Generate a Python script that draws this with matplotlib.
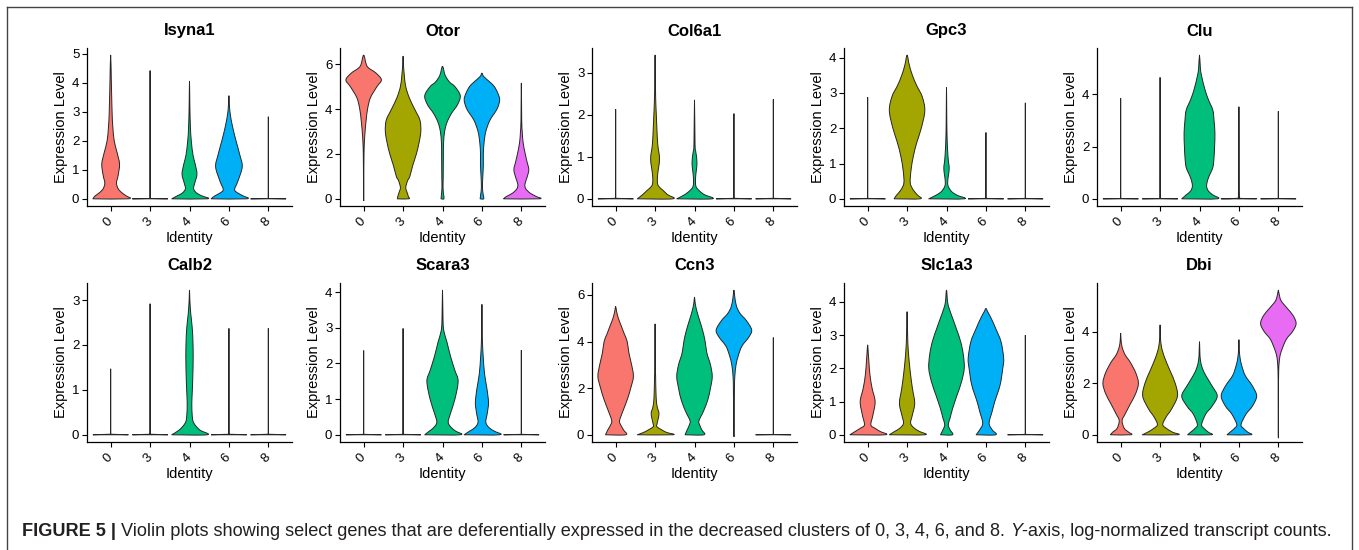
import matplotlib
matplotlib.use("Agg")
import matplotlib.pyplot as plt
from matplotlib.lines import Line2D
from matplotlib.path import Path
from matplotlib.patches import PathPatch

plt.rcParams['font.family'] = ['Liberation Sans', 'DejaVu Sans']

# cluster identities and ggplot hue colours
clusters = ["0", "3", "4", "6", "8"]
colors = ["#F8766D", "#A3A500", "#00BF7D", "#00B0F6", "#E76BF3"]

# each violin: list of (expression level, relative half width),
# or a single number = zero-inflated cluster (flat at 0 with a thin tail up to that max)
isyna1 = [
    [(0, 1.0), (0.1, 0.88), (0.2, 0.65), (0.35, 0.42), (0.55, 0.33), (0.8, 0.42), (1.2, 0.5),
     (1.6, 0.36), (2.0, 0.2), (2.5, 0.12), (3.0, 0.08), (4.0, 0.04), (4.95, 0.0)],
    4.42,
    [(0, 1.0), (0.1, 0.7), (0.2, 0.4), (0.35, 0.23), (0.55, 0.3), (0.85, 0.42), (1.2, 0.32),
     (1.5, 0.2), (2.0, 0.1), (2.5, 0.05), (3.2, 0.02), (4.05, 0.0)],
    [(0, 1.0), (0.1, 0.8), (0.2, 0.5), (0.32, 0.32), (0.6, 0.5), (1.1, 0.75), (1.5, 0.62),
     (2.0, 0.4), (2.5, 0.2), (2.9, 0.08), (3.2, 0.03), (3.55, 0.0)],
    2.83,
]
otor = [
    [(0, 0.01), (1.0, 0.01), (2.0, 0.02), (2.5, 0.04), (3.0, 0.08), (3.5, 0.14), (4.0, 0.22),
     (4.5, 0.38), (5.0, 0.75), (5.3, 1.0), (5.6, 0.7), (5.9, 0.2), (6.4, 0.0)],
    [(0, 0.32), (0.1, 0.3), (0.3, 0.22), (0.5, 0.15), (0.8, 0.25), (1.0, 0.38), (1.5, 0.55),
     (2.0, 0.75), (2.5, 0.9), (3.0, 1.0), (3.5, 0.95), (4.0, 0.65), (4.5, 0.35), (5.0, 0.15),
     (5.5, 0.07), (6.0, 0.02), (6.35, 0.0)],
    [(0, 0.08), (0.2, 0.06), (0.5, 0.03), (1.0, 0.04), (2.0, 0.05), (2.5, 0.06), (3.0, 0.12),
     (3.4, 0.25), (3.8, 0.5), (4.2, 0.85), (4.6, 1.0), (5.0, 0.7), (5.2, 0.4), (5.5, 0.15),
     (5.9, 0.0)],
    [(0, 0.1), (0.2, 0.07), (0.5, 0.03), (1.0, 0.05), (1.5, 0.08), (2.0, 0.08), (2.5, 0.12),
     (3.0, 0.22), (3.5, 0.45), (4.0, 0.85), (4.4, 1.0), (4.7, 0.9), (5.0, 0.7), (5.2, 0.45),
     (5.45, 0.1), (5.6, 0.0)],
    [(0, 1.0), (0.1, 0.85), (0.25, 0.5), (0.45, 0.25), (0.65, 0.2), (0.95, 0.32), (1.3, 0.42),
     (1.65, 0.32), (2.0, 0.22), (2.5, 0.1), (3.0, 0.05), (3.5, 0.02), (5.15, 0.0)],
]
col6a1 = [
    2.13,
    [(0, 1.0), (0.1, 0.7), (0.2, 0.45), (0.3, 0.2), (0.4, 0.13), (0.6, 0.15), (0.95, 0.25),
     (1.3, 0.15), (1.7, 0.1), (2.0, 0.07), (2.3, 0.04), (2.7, 0.02), (3.42, 0.0)],
    [(0, 1.0), (0.1, 0.55), (0.2, 0.25), (0.3, 0.08), (0.5, 0.06), (0.85, 0.14), (1.1, 0.08),
     (1.3, 0.03), (2.35, 0.0)],
    2.03,
    2.37,
]
gpc3 = [
    2.88,
    [(0, 0.73), (0.1, 0.6), (0.25, 0.35), (0.45, 0.18), (0.8, 0.22), (1.2, 0.35), (1.6, 0.55),
     (2.0, 0.8), (2.5, 1.0), (2.9, 0.85), (3.2, 0.55), (3.5, 0.3), (3.8, 0.12), (4.07, 0.0)],
    [(0, 1.0), (0.1, 0.6), (0.2, 0.3), (0.35, 0.1), (0.5, 0.07), (0.85, 0.15), (1.1, 0.1),
     (1.4, 0.06), (1.8, 0.03), (2.3, 0.015), (3.15, 0.0)],
    1.88,
    2.72,
]
clu = [
    3.85,
    4.65,
    [(0, 1.0), (0.15, 0.75), (0.3, 0.5), (0.5, 0.4), (0.8, 0.5), (1.2, 0.75), (1.6, 0.82),
     (2.0, 0.85), (2.5, 0.87), (3.0, 0.82), (3.4, 0.75), (3.8, 0.5), (4.2, 0.3), (4.7, 0.12),
     (5.0, 0.05), (5.5, 0.0)],
    [(0, 1.0), (0.02, 0.08), (0.1, 0.03), (1.0, 0.02), (3.52, 0.0)],
    3.35,
]
calb2 = [
    1.47,
    2.92,
    [(0, 1.0), (0.1, 0.6), (0.2, 0.35), (0.3, 0.2), (0.45, 0.15), (0.7, 0.13), (1.0, 0.16),
     (1.5, 0.2), (2.0, 0.2), (2.4, 0.15), (2.7, 0.07), (3.0, 0.02), (3.22, 0.0)],
    2.37,
    2.37,
]
scara3 = [
    2.36,
    2.98,
    [(0, 1.0), (0.1, 0.75), (0.2, 0.5), (0.35, 0.32), (0.6, 0.45), (1.0, 0.7), (1.5, 0.88),
     (1.8, 0.7), (2.2, 0.45), (2.6, 0.25), (2.9, 0.08), (3.2, 0.03), (4.05, 0.0)],
    [(0, 1.0), (0.1, 0.7), (0.2, 0.4), (0.35, 0.22), (0.6, 0.3), (0.9, 0.37), (1.3, 0.28),
     (1.7, 0.15), (2.2, 0.07), (2.6, 0.03), (3.0, 0.015), (3.65, 0.0)],
    2.37,
]
ccn3 = [
    [(0, 0.57), (0.2, 0.45), (0.4, 0.3), (0.6, 0.22), (1.0, 0.4), (1.5, 0.65), (2.0, 0.85),
     (2.5, 1.0), (3.0, 0.9), (3.5, 0.75), (4.0, 0.65), (4.3, 0.5), (4.7, 0.3), (5.0, 0.15),
     (5.3, 0.05), (5.5, 0.0)],
    [(0, 1.0), (0.1, 0.65), (0.2, 0.4), (0.35, 0.1), (0.5, 0.12), (0.9, 0.22), (1.2, 0.12),
     (1.6, 0.06), (2.5, 0.03), (3.0, 0.015), (4.75, 0.0)],
    [(0, 0.53), (0.2, 0.42), (0.4, 0.3), (0.6, 0.25), (1.0, 0.5), (1.5, 0.75), (2.0, 0.9),
     (2.5, 1.0), (3.0, 0.9), (3.5, 0.7), (4.0, 0.6), (4.5, 0.45), (5.0, 0.25), (5.4, 0.1),
     (5.7, 0.03), (5.9, 0.0)],
    [(0, 0.01), (1.0, 0.02), (2.0, 0.03), (2.5, 0.05), (3.0, 0.12), (3.4, 0.25), (3.8, 0.45),
     (4.2, 0.85), (4.5, 1.0), (4.9, 0.7), (5.2, 0.35), (5.5, 0.15), (5.9, 0.05), (6.2, 0.0)],
    4.17,
]
slc1a3 = [
    [(0, 1.0), (0.1, 0.7), (0.2, 0.4), (0.3, 0.18), (0.6, 0.3), (1.0, 0.42), (1.4, 0.25),
     (1.8, 0.13), (2.2, 0.07), (2.5, 0.03), (2.7, 0.0)],
    [(0, 1.0), (0.1, 0.7), (0.2, 0.4), (0.35, 0.2), (0.6, 0.3), (0.95, 0.43), (1.4, 0.3),
     (1.8, 0.2), (2.2, 0.12), (2.6, 0.06), (3.0, 0.03), (3.7, 0.0)],
    [(0, 0.34), (0.15, 0.2), (0.3, 0.1), (0.5, 0.2), (0.8, 0.35), (1.2, 0.6), (1.6, 0.85),
     (2.0, 1.0), (2.4, 0.95), (2.8, 0.8), (3.2, 0.55), (3.5, 0.35), (3.8, 0.15), (4.0, 0.06),
     (4.35, 0.0)],
    [(0, 0.55), (0.15, 0.35), (0.35, 0.18), (0.7, 0.35), (1.0, 0.5), (1.5, 0.8), (2.0, 0.95),
     (2.3, 1.0), (2.8, 0.85), (3.2, 0.55), (3.5, 0.3), (3.7, 0.1), (3.8, 0.0)],
    3.0,
]
dbi = [
    [(0, 0.58), (0.1, 0.45), (0.25, 0.2), (0.55, 0.08), (0.8, 0.25), (1.2, 0.55), (1.6, 0.85),
     (2.0, 1.0), (2.4, 0.85), (2.8, 0.55), (3.1, 0.25), (3.4, 0.08), (3.7, 0.02), (3.93, 0.0)],
    [(0, 1.0), (0.1, 0.7), (0.25, 0.35), (0.4, 0.15), (0.7, 0.35), (1.0, 0.65), (1.5, 0.98),
     (2.0, 0.85), (2.5, 0.55), (3.0, 0.25), (3.4, 0.08), (3.8, 0.02), (4.25, 0.0)],
    [(0, 0.67), (0.1, 0.5), (0.25, 0.25), (0.4, 0.12), (0.8, 0.35), (1.1, 0.7), (1.5, 1.0),
     (1.9, 0.7), (2.3, 0.35), (2.6, 0.15), (2.9, 0.05), (3.2, 0.02), (3.6, 0.0)],
    [(0, 0.67), (0.1, 0.5), (0.25, 0.25), (0.4, 0.12), (0.8, 0.4), (1.1, 0.75), (1.5, 1.0),
     (1.9, 0.75), (2.3, 0.35), (2.7, 0.15), (3.0, 0.06), (3.3, 0.02), (3.68, 0.0)],
    [(0, 0.005), (1.5, 0.01), (2.5, 0.02), (3.0, 0.08), (3.3, 0.2), (3.7, 0.45), (4.0, 0.8),
     (4.3, 1.0), (4.6, 0.85), (4.9, 0.5), (5.2, 0.15), (5.5, 0.03), (5.6, 0.0)],
]

genes = ["Isyna1", "Otor", "Col6a1", "Gpc3", "Clu",
         "Calb2", "Scara3", "Ccn3", "Slc1a3", "Dbi"]
violins = [isyna1, otor, col6a1, gpc3, clu, calb2, scara3, ccn3, slc1a3, dbi]
yticks = [[0, 1, 2, 3, 4, 5], [0, 2, 4, 6], [0, 1, 2, 3], [0, 1, 2, 3, 4], [0, 2, 4],
          [0, 1, 2, 3], [0, 1, 2, 3, 4], [0, 2, 4, 6], [0, 1, 2, 3, 4], [0, 2, 4]]

EDGE = "#262626"


def smooth_path(pts):
    # Catmull-Rom through the outline points, drawn as cubic Bezier segments
    verts = [pts[0]]
    codes = [Path.MOVETO]
    n = len(pts)
    for i in range(n - 1):
        p0 = pts[max(i - 1, 0)]
        p1, p2 = pts[i], pts[i + 1]
        p3 = pts[min(i + 2, n - 1)]
        c1 = (p1[0] + (p2[0] - p0[0]) / 6, p1[1] + (p2[1] - p0[1]) / 6)
        c2 = (p2[0] - (p3[0] - p1[0]) / 6, p2[1] - (p3[1] - p1[1]) / 6)
        verts += [c1, c2, p2]
        codes += [Path.CURVE4] * 3
    verts.append(pts[0])
    codes.append(Path.CLOSEPOLY)
    return Path(verts, codes)


def draw_violin(ax, pos, prof, color):
    if not isinstance(prof, list):
        # zero-inflated cluster: flat line at 0 plus thin tail
        xs = [pos - 0.45, pos + 0.45, pos + 0.004, pos, pos - 0.004]
        ys = [0, 0, 0.012, prof, 0.012]
        ax.fill(xs, ys, facecolor=color, edgecolor=EDGE, linewidth=0.7)
        return prof
    ys = [p[0] for p in prof]
    ws = [0.45 * p[1] for p in prof]
    right = [(pos + w, y) for w, y in zip(ws, ys)]
    left = [(pos - w, y) for w, y in zip(ws, ys)][::-1][1:]
    pts = [(pos - ws[0], 0)] + right + left
    ax.add_patch(PathPatch(smooth_path(pts), facecolor=color, edgecolor=EDGE,
                           linewidth=0.7, joinstyle="round"))
    return max(ys)


W, H = 1359, 550
fig = plt.figure(figsize=(W / 100, H / 100), dpi=100)

lefts = [87, 340, 592, 844, 1097]
rows = [(48, 206), (283, 442)]

for i, gene in enumerate(genes):
    r, c = divmod(i, 5)
    top, bot = rows[r]
    ax = fig.add_axes([lefts[c] / W, 1 - bot / H, 205 / W, (bot - top) / H])
    ymax = 0
    for j, prof in enumerate(violins[i]):
        ymax = max(ymax, draw_violin(ax, j + 1, prof, colors[j]))
    ax.set_xlim(0.4, 5.6)
    ax.set_ylim(-0.05 * ymax, 1.05 * ymax)
    ax.set_xticks(range(1, 6))
    ax.set_xticklabels(clusters, rotation=45, ha="right", va="center",
                       rotation_mode="anchor", fontsize=9.5)
    ax.set_yticks(yticks[i])
    ax.tick_params(axis="y", labelsize=9.5, length=3.5, width=0.8, pad=2)
    ax.tick_params(axis="x", length=3.5, width=0.8, pad=6)
    for s in ["top", "right"]:
        ax.spines[s].set_visible(False)
    for s in ["left", "bottom"]:
        ax.spines[s].set_linewidth(0.9)
    ax.set_title(gene, fontsize=12, fontweight="bold", pad=9)
    ax.set_xlabel("Identity", fontsize=10.5, labelpad=2)
    ax.set_ylabel("Expression Level", fontsize=10.5, labelpad=3)

# frame around the figure panel
frame = dict(color="#444444", linewidth=1.0)
fig.add_artist(Line2D([7 / W, 1352 / W], [1 - 7 / H, 1 - 7 / H], **frame))
fig.add_artist(Line2D([7 / W, 7 / W], [0, 1 - 7 / H], **frame))
fig.add_artist(Line2D([1352 / W, 1352 / W], [0, 1 - 7 / H], **frame))

# caption
cap = "#231F20"
fs = 13.1
t1 = fig.text(22 / W, 1 - 536 / H, "FIGURE 5 |", fontsize=fs, fontweight="bold",
              color=cap, va="baseline")
t2 = fig.text(0, 0, " Violin plots showing select genes that are deferentially expressed in the "
              "decreased clusters of 0, 3, 4, 6, and 8. ", fontsize=fs, color=cap)
t3 = fig.text(0, 0, "Y", fontsize=fs, color=cap, style="italic")
t4 = fig.text(0, 0, "-axis, log-normalized transcript counts.", fontsize=fs, color=cap)

fig.canvas.draw()
r = fig.canvas.get_renderer()
prev = t1
for t in (t2, t3, t4):
    bb = prev.get_window_extent(r)
    t.set_position((bb.x1 / W, 1 - 536 / H))
    t.set_va("baseline")
    fig.canvas.draw()
    prev = t

fig.savefig("out.png", dpi=100)
